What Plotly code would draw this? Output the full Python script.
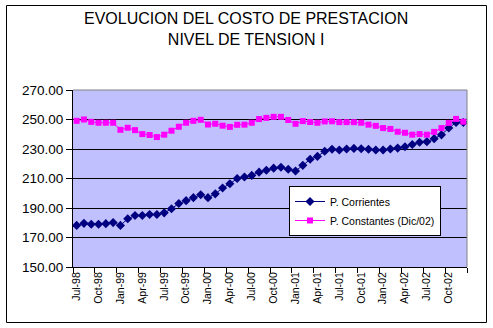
import plotly.graph_objects as go

months = ["Jul-98", "Aug-98", "Sep-98", "Oct-98", "Nov-98", "Dec-98",
          "Jan-99", "Feb-99", "Mar-99", "Apr-99", "May-99", "Jun-99",
          "Jul-99", "Aug-99", "Sep-99", "Oct-99", "Nov-99", "Dec-99",
          "Jan-00", "Feb-00", "Mar-00", "Apr-00", "May-00", "Jun-00",
          "Jul-00", "Aug-00", "Sep-00", "Oct-00", "Nov-00", "Dec-00",
          "Jan-01", "Feb-01", "Mar-01", "Apr-01", "May-01", "Jun-01",
          "Jul-01", "Aug-01", "Sep-01", "Oct-01", "Nov-01", "Dec-01",
          "Jan-02", "Feb-02", "Mar-02", "Apr-02", "May-02", "Jun-02",
          "Jul-02", "Aug-02", "Sep-02", "Oct-02", "Nov-02", "Dec-02"]

p_corrientes = [178.2, 179.6, 179.0, 179.0, 179.4, 180.1,
                178.2, 182.7, 184.9, 184.9, 185.6, 185.6,
                186.7, 189.5, 193.0, 195.0, 197.0, 199.0,
                197.0, 199.6, 203.6, 206.4, 210.0, 211.0,
                212.1, 214.3, 215.6, 217.0, 217.6, 216.3,
                215.1, 218.9, 223.0, 225.0, 228.5, 229.8,
                229.3, 230.0, 230.4, 230.2, 229.8, 229.3,
                229.3, 230.0, 230.6, 231.5, 233.0, 234.6,
                235.0, 237.0, 239.6, 244.2, 248.0, 248.0]

p_constantes = [249.1, 250.0, 248.4, 247.8, 247.8, 247.8,
                243.0, 244.4, 242.8, 240.1, 239.5, 238.1,
                239.7, 242.4, 245.1, 247.8, 249.1, 249.8,
                246.6, 247.1, 245.8, 245.0, 246.4, 246.5,
                247.8, 250.3, 251.1, 251.8, 251.8, 249.7,
                247.1, 248.9, 248.3, 247.8, 248.7, 248.8,
                248.2, 248.2, 248.2, 247.8, 246.5, 245.7,
                244.2, 243.6, 241.7, 241.0, 239.7, 240.1,
                239.7, 241.6, 244.2, 247.7, 250.4, 248.5]

title_text = "EVOLUCION DEL COSTO DE PRESTACION<br>NIVEL DE TENSION I"
y_ticks = [150, 170, 190, 210, 230, 250, 270]

FONT = "Liberation Sans, Arial, sans-serif"

fig = go.Figure()
fig.add_trace(go.Scatter(
    x=months, y=p_corrientes, name="P. Corrientes", mode="lines+markers",
    line=dict(color="#000080", width=1),
    marker=dict(symbol="diamond", size=7, color="#000080"),
))
fig.add_trace(go.Scatter(
    x=months, y=p_constantes, name="P. Constantes (Dic/02)", mode="lines+markers",
    line=dict(color="#FF00FF", width=1),
    marker=dict(symbol="square", size=6, color="#FF00FF"),
))

W, H = 493, 328
L, R, T, B = 73, 467, 90, 267
pw, ph = R - L, B - T

def px(x):
    return (x - L) / pw

def py(y):
    return (B - y) / ph

fig.update_layout(
    width=W, height=H,
    margin=dict(l=L, r=W - R, t=T, b=H - B, pad=0),
    paper_bgcolor="white",
    plot_bgcolor="#C0C0FF",
    font=dict(family=FONT, color="black"),
    showlegend=True,
    legend=dict(x=px(289), y=py(186), xanchor="left", yanchor="top",
                bgcolor="white", bordercolor="black", borderwidth=1,
                font=dict(size=10.5, family=FONT), tracegroupgap=0,
                itemwidth=30),
    xaxis=dict(type="category", categoryorder="array", categoryarray=months,
               range=[-0.5, len(months) - 0.5], tickmode="linear", tick0=0, dtick=3,
               tickson="boundaries", ticks="outside", ticklen=5, tickcolor="black",
               tickangle=-90, tickfont=dict(size=10.5, family=FONT),
               showline=True, linecolor="black", linewidth=1,
               showgrid=False, zeroline=False),
    yaxis=dict(range=[150, 270], tickmode="array", tickvals=y_ticks,
               tickformat=".2f", ticks="outside", ticklen=6, tickcolor="black",
               tickfont=dict(size=13.5, family=FONT),
               showline=True, linecolor="black", linewidth=1,
               showgrid=True, gridcolor="black", gridwidth=1, zeroline=False),
    annotations=[
        dict(text=title_text, xref="paper", yref="paper", x=px(246), y=py(8),
             xanchor="center", yanchor="top", showarrow=False, align="center",
             font=dict(size=16, family=FONT, color="black")),
    ],
    shapes=[
        dict(type="rect", xref="paper", yref="paper",
             x0=px(6.5), x1=px(486.5), y0=py(322.5), y1=py(5.5),
             line=dict(color="black", width=1), fillcolor="rgba(0,0,0,0)", layer="below"),
        dict(type="line", xref="paper", yref="paper", x0=0, x1=1, y0=1, y1=1,
             line=dict(color="#808080", width=1), layer="above"),
        dict(type="line", xref="paper", yref="paper", x0=1, x1=1, y0=0, y1=1,
             line=dict(color="#808080", width=1), layer="above"),
    ],
)

fig.write_html("out.html")
